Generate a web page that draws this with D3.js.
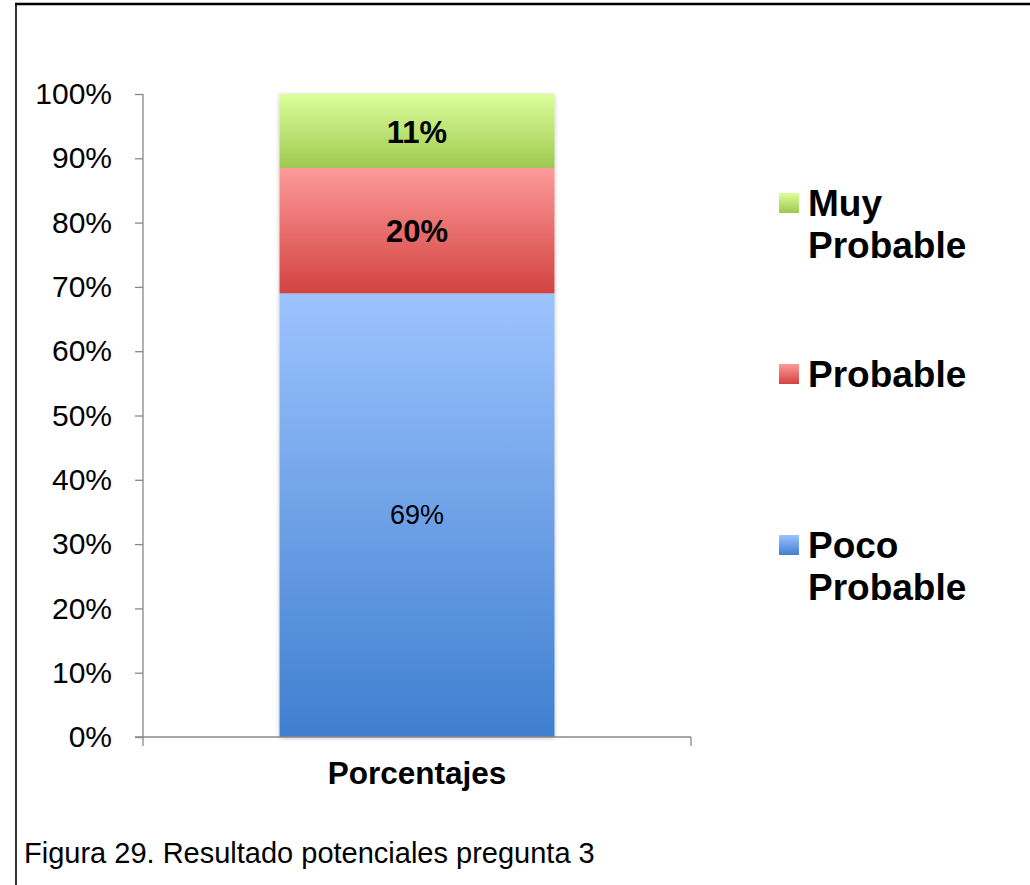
<!DOCTYPE html>
<html><head><meta charset="utf-8">
<script src="https://cdn.jsdelivr.net/npm/d3@7"></script>
<style>body{margin:0;background:#fff;}svg{display:block;font-family:"Liberation Sans",Arial,sans-serif;}</style>
</head><body>
<svg id="c" width="1030" height="885"></svg>
<script>
const category = "Porcentajes";
const seriesNames = ["Poco Probable", "Probable", "Muy Probable"];
const seriesValues = [0.69, 0.195, 0.115];
const valueLabels = ["69%", "20%", "11%"];
const tickValues = [0,0.1,0.2,0.3,0.4,0.5,0.6,0.7,0.8,0.9,1.0];
const legendLines = [["Poco","Probable"],["Probable"],["Muy","Probable"]];
const caption = "Figura 29. Resultado potenciales pregunta 3";
const gradTop = ["#9dc3fe", "#fd9a9a", "#dcff9c"];
const gradBot = ["#3f7fd0", "#d24340", "#9dc84f"];

const svg = d3.select("#c");
const defs = svg.append("defs");
gradTop.forEach((c,i)=>{
  const g = defs.append("linearGradient").attr("id","g"+i).attr("x1",0).attr("y1",0).attr("x2",0).attr("y2",1);
  g.append("stop").attr("offset","0%").attr("stop-color",c);
  g.append("stop").attr("offset","100%").attr("stop-color",gradBot[i]);
});
const f = defs.append("filter").attr("id","sh").attr("x","-10%").attr("y","-10%").attr("width","120%").attr("height","120%");
f.append("feDropShadow").attr("dx",0).attr("dy",1).attr("stdDeviation",2).attr("flood-color","#000").attr("flood-opacity",0.25);

// frame
svg.append("line").attr("x1",15).attr("x2",1030).attr("y1",4).attr("y2",4).attr("stroke","#000").attr("stroke-width",2.5);
svg.append("line").attr("x1",16).attr("x2",16).attr("y1",3).attr("y2",885).attr("stroke","#000").attr("stroke-width",1.6);

const y = d3.scaleLinear().domain([0,1]).range([737,94]);
const x = d3.scaleBand().domain([category]).range([143,691]).paddingInner(0).paddingOuter(0.4965);

// bars
let cum = 0;
const stack = seriesValues.map((v,i)=>{const s={i,v,y0:cum,y1:Math.min(cum+v,1)};cum+=v;return s;});
const barG = svg.append("g").attr("filter","url(#sh)");
barG.selectAll("rect").data(stack).join("rect")
  .attr("x",x(category)).attr("width",x.bandwidth())
  .attr("y",d=>y(d.y1)).attr("height",d=>y(d.y0)-y(d.y1))
  .attr("fill",d=>"url(#g"+d.i+")");

// axes
const yAxis = d3.axisLeft(y).tickValues(tickValues).tickFormat(d3.format(".0%")).tickSize(8).tickPadding(23);
const ga = svg.append("g").attr("transform","translate(143,0)").call(yAxis);
ga.select(".domain").attr("stroke","#888").attr("stroke-width",1.3).attr("d","M0,"+y(1)+"V"+y(0));
ga.selectAll(".tick line").attr("stroke","#888").attr("stroke-width",1.3);
ga.selectAll(".tick text").attr("font-size",30).attr("fill","#000").attr("font-family","Liberation Sans, Arial, sans-serif");

const xAxis = d3.axisBottom(x).tickSize(0).tickFormat("");
const gx = svg.append("g").attr("transform","translate(0,737)").call(xAxis);
gx.select(".domain").attr("stroke","#888").attr("stroke-width",1.3).attr("d","M135,0H691");
[143,691].forEach(px=>svg.append("line").attr("x1",px).attr("x2",px).attr("y1",737).attr("y2",746).attr("stroke","#888").attr("stroke-width",1.3));
svg.append("text").attr("x",x(category)+x.bandwidth()/2).attr("y",784).attr("text-anchor","middle")
  .attr("font-size",31.5).attr("font-weight","bold").text(category);

// value labels
svg.selectAll(".vl").data(stack).join("text").attr("class","vl")
  .attr("x",x(category)+x.bandwidth()/2)
  .attr("y",d=>y((d.y0+d.y1)/2))
  .attr("dy",d=>d.i===0?"0.32em":"0.38em")
  .attr("text-anchor","middle")
  .attr("font-size",d=>d.i===0?27:31)
  .attr("font-weight",d=>d.i===0?"normal":"bold")
  .text(d=>valueLabels[d.i]);

// legend
const legendY = [558, 387, 216];
seriesNames.forEach((n,i)=>{
  const g = svg.append("g");
  g.append("rect").attr("x",779).attr("y",legendY[i]-23).attr("width",20).attr("height",20).attr("fill","url(#g"+i+")");
  legendLines[i].forEach((t,j)=>{
    g.append("text").attr("x",808).attr("y",legendY[i]+j*42).attr("font-size",37).attr("font-weight","bold").text(t);
  });
});

svg.append("text").attr("x",24).attr("y",863).attr("font-size",29).text(caption);
</script>
</body></html>
